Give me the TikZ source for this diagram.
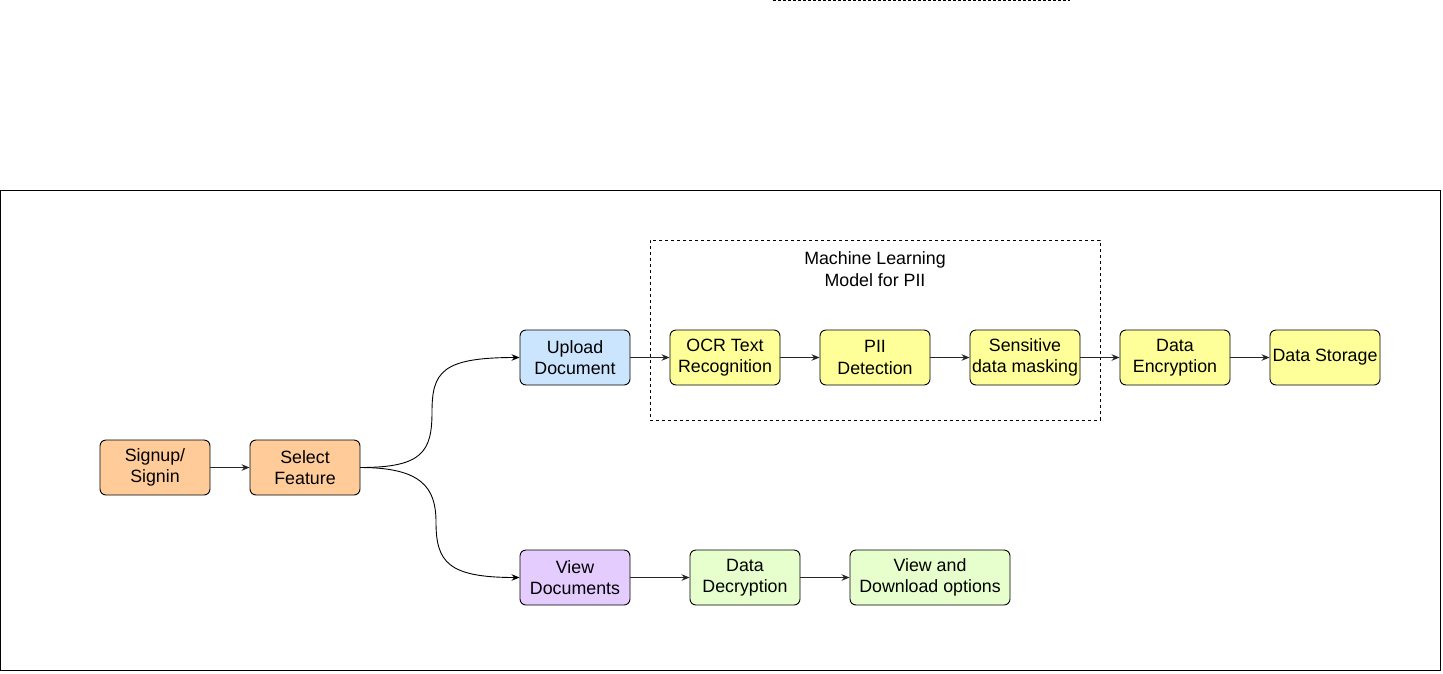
\documentclass[tikz,border=0pt]{standalone}
\usepackage{fontspec}
\setmainfont{Liberation Sans}
\usetikzlibrary{arrows.meta}
\definecolor{orangefill}{HTML}{FFCC99}
\definecolor{bluefill}{HTML}{CCE5FF}
\definecolor{yellowfill}{HTML}{FFFF99}
\definecolor{purplefill}{HTML}{E5CCFF}
\definecolor{greenfill}{HTML}{E6FFCC}
\tikzset{
  box/.style={draw=black, line width=0.9pt, rounded corners=6pt, minimum width=110pt, minimum height=55pt,
    inner sep=0pt, align=center, font=\fontsize{17.8}{21.5}\selectfont, text=black},
  conn/.style={draw=black!85, line width=1pt, -{Stealth[length=8pt,width=6.5pt]}},
  curv/.style={draw=black, line width=0.9pt, -{Stealth[length=8pt,width=6.5pt]}},
}
\begin{document}
\begin{tikzpicture}[x=1pt,y=-1pt]
\useasboundingbox (0,0) rectangle (1443,673);
% top dotted line
\draw[line width=0.9pt, dash pattern=on 3pt off 2pt] (773,0.8) -- (1070,0.8);
% outer frame
\draw[line width=0.9pt] (0.5,190.5) rectangle (1440,670);
% ML dashed group
\node[draw, line width=0.8pt, dash pattern=on 3pt off 3pt, minimum width=450pt, minimum height=180pt, inner sep=0pt] (ml) at (875,330) {};
\node[align=center, font=\fontsize{17.8}{21.5}\selectfont] (mltitle) at (875,269) {Machine Learning\\Model for PII};
% nodes
\node[box, fill=orangefill] (signup) at (155,467.5) {Signup/\\Signin};
\node[box, fill=orangefill] (select) at (305,467.5) {Select\\Feature};
\node[box, fill=bluefill] (upload) at (575,357.5) {Upload\\Document};
\node[box, fill=yellowfill] (ocr) at (725,357.5) {OCR Text\\Recognition};
\node[box, fill=yellowfill] (pii) at (875,357.5) {PII\\Detection};
\node[box, fill=yellowfill] (mask) at (1025,357.5) {Sensitive\\data masking};
\node[box, fill=yellowfill] (enc) at (1175,357.5) {Data\\Encryption};
\node[box, fill=yellowfill] (store) at (1325,357.5) {Data Storage};
\node[box, fill=purplefill] (view) at (575,577.5) {View\\Documents};
\node[box, fill=greenfill] (dec) at (745,577.5) {Data\\Decryption};
\node[box, fill=greenfill, minimum width=160pt] (dl) at (930,577.5) {View and\\Download options};
% connectors
\draw[conn] (signup) -- (select);
\draw[conn] (upload) -- (ocr);
\draw[conn] (ocr) -- (pii);
\draw[conn] (pii) -- (mask);
\draw[conn] (mask) -- (enc);
\draw[conn] (enc) -- (store);
\draw[conn] (view) -- (dec);
\draw[conn] (dec) -- (dl);
\draw[curv] (select.east) .. controls (422,467.5) and (432,452) .. (432,412)
  .. controls (432,372) and (442,357.5) .. (upload.west);
\draw[curv] (select.east) .. controls (422,467.5) and (436,488) .. (436,522)
  .. controls (436,562) and (448,577.5) .. (view.west);
\end{tikzpicture}
\end{document}
